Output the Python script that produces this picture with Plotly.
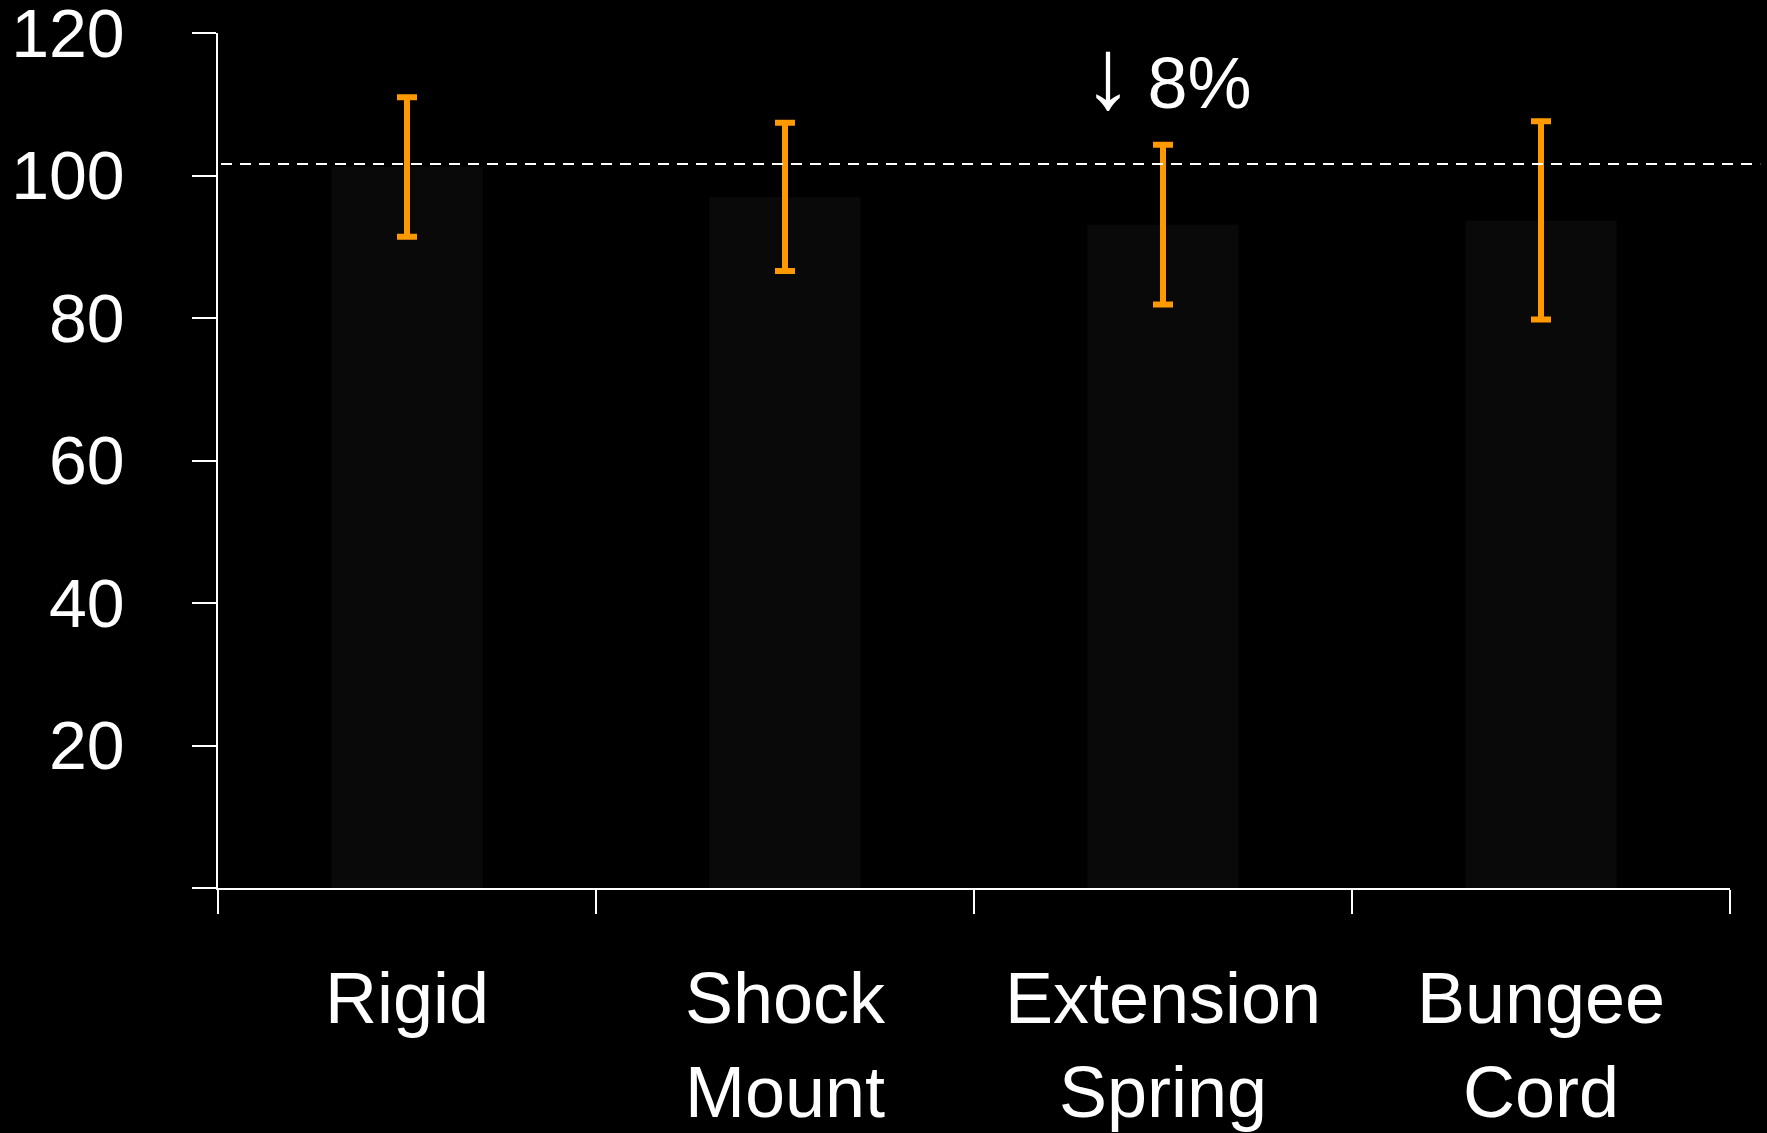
import plotly.graph_objects as go

categories = ["Rigid", "Shock<br>Mount", "Extension<br>Spring", "Bungee<br>Cord"]
means = [101.2, 97.0, 93.1, 93.7]
errors = [9.8, 10.4, 11.2, 13.9]
reference_level = 101.6
y_tick_vals = [0, 20, 40, 60, 80, 100, 120]
y_tick_text = ["", "20", "40", "60", "80", "100", "120"]
annotation_arrow = "↓"
annotation_label = "8%"
annotation_y = 114.4

FONT = "Liberation Sans, Arial, sans-serif"

fig = go.Figure()
fig.add_trace(go.Bar(
    x=categories,
    y=means,
    width=0.4,
    marker=dict(color="#090909", line=dict(width=0)),
    error_y=dict(type="data", array=errors, visible=True,
                 color="#FF9900", thickness=6, width=10),
    showlegend=False,
))

fig.add_shape(type="line", xref="paper", yref="y",
              x0=0.002, x1=1.02, y0=reference_level, y1=reference_level,
              line=dict(color="white", width=2, dash="11px,8px"),
              layer="above")

fig.add_annotation(x=categories[2], y=annotation_y, xref="x", yref="y",
                   text=("<span style='font-size:100px'>"
                         + annotation_arrow + "</span>\u2009" + annotation_label),
                   showarrow=False, xshift=4,
                   font=dict(family=FONT, size=72, color="white"))

fig.update_layout(
    width=1767, height=1133,
    paper_bgcolor="black", plot_bgcolor="black",
    margin=dict(l=218, r=37, t=33, b=245, autoexpand=False),
    font=dict(family=FONT, color="white"),
    bargap=0.6,
    xaxis=dict(
        type="category",
        tickson="boundaries",
        ticks="outside", ticklen=24, tickwidth=1.5, tickcolor="white",
        showline=True, linecolor="white", linewidth=1.5,
        showgrid=False, zeroline=False, automargin=False,
        tickfont=dict(family=FONT, size=72, color="white"),
        ticklabelstandoff=47,
    ),
    yaxis=dict(
        range=[0, 120],
        tickvals=y_tick_vals, ticktext=y_tick_text,
        ticks="outside", ticklen=24, tickwidth=1.5, tickcolor="white",
        showline=True, linecolor="white", linewidth=1.5,
        showgrid=False, zeroline=False, automargin=False,
        ticklabeloverflow="allow",
        tickfont=dict(family=FONT, size=68, color="white"),
        ticklabelstandoff=54,
    ),
)

fig.write_html("out.html")
